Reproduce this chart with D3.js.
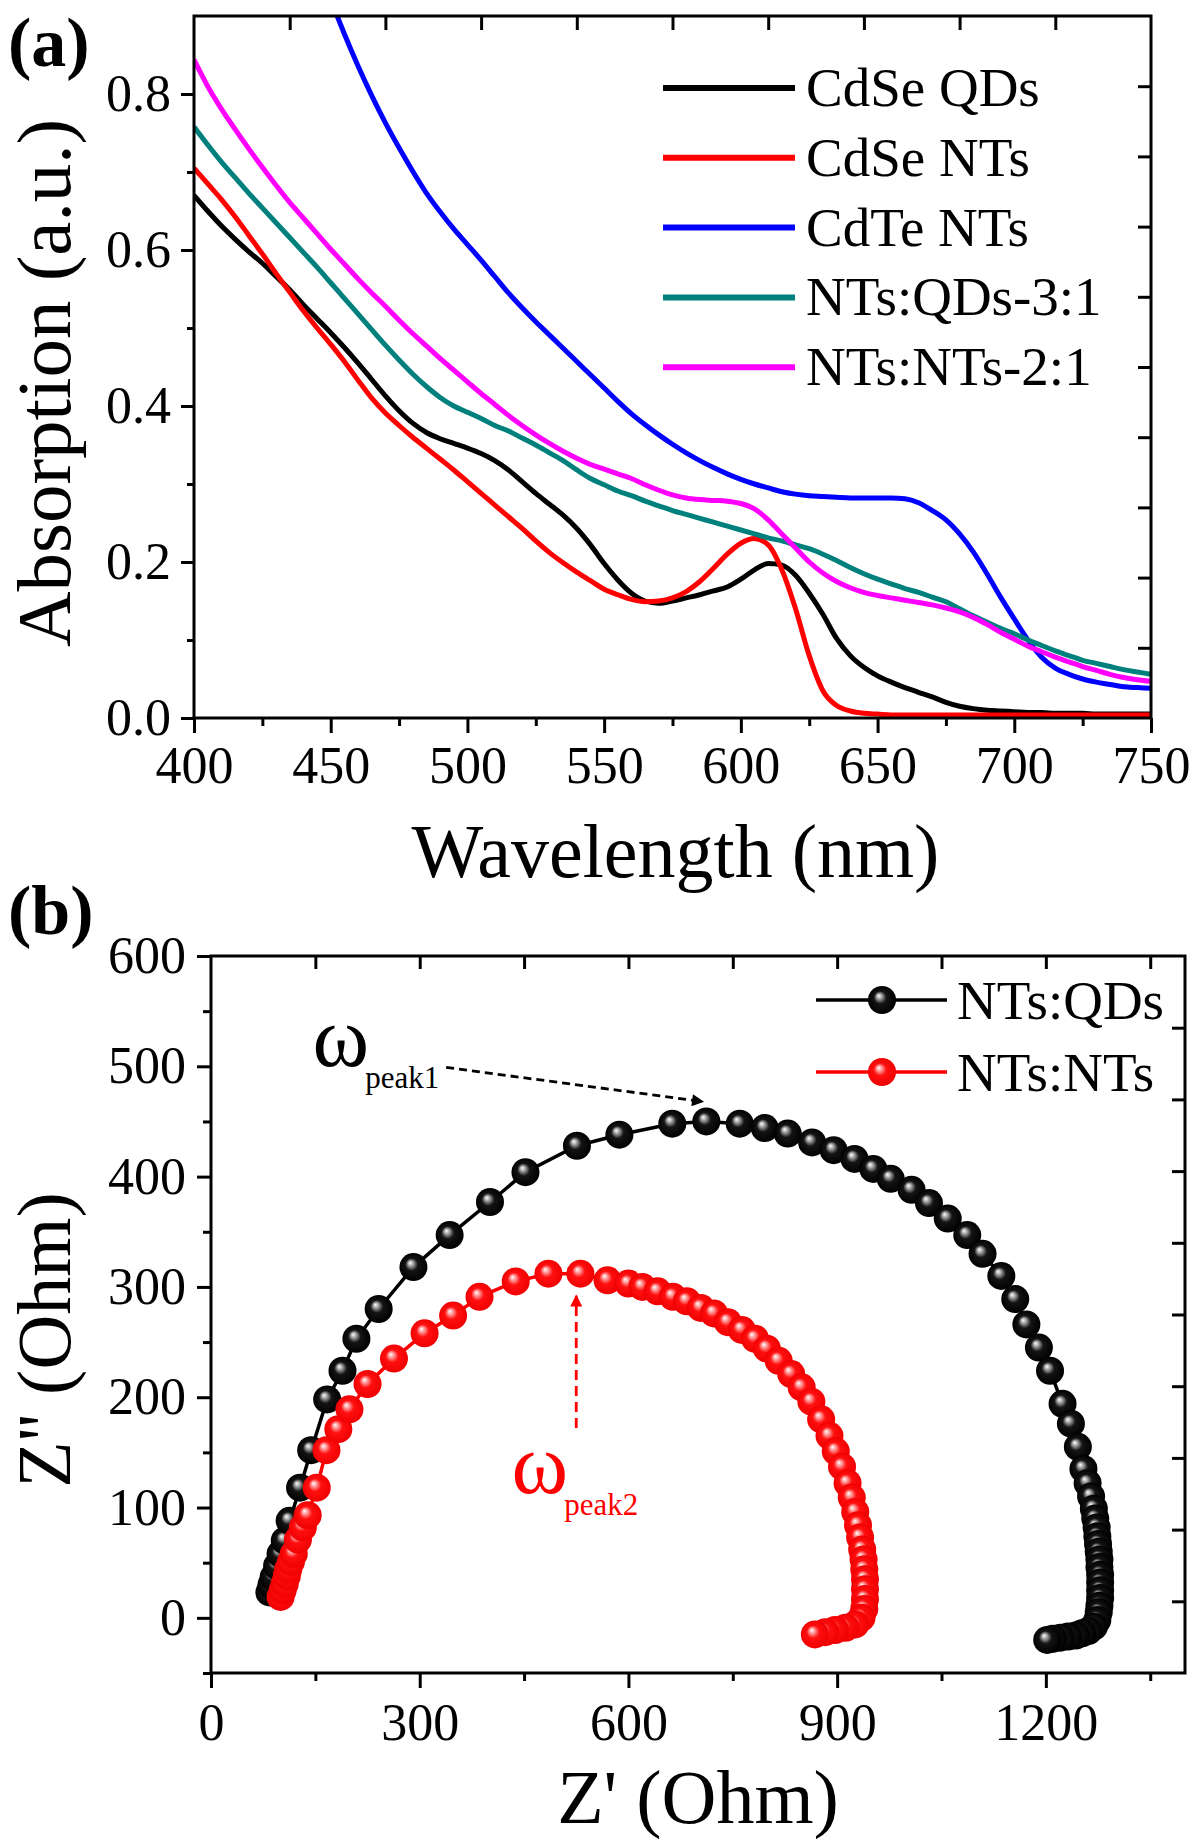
<!DOCTYPE html>
<html><head><meta charset="utf-8">
<script src="https://cdn.jsdelivr.net/npm/d3@7"></script>
<style>
html,body{margin:0;padding:0;background:#fff;}
svg{display:block;}
text{font-family:"Liberation Serif","Times New Roman",serif;fill:#000;}
</style></head><body>
<svg id="chart" width="1200" height="1846"></svg>
<script>
// ---------------- Panel (a) data: absorption spectra ----------------
const aWavelength = [400,405,410,415,420,425,430,435,440,445,450,455,460,465,470,475,480,485,490,495,
  500,505,510,515,520,525,530,535,540,545,550,555,560,565,570,575,580,585,590,595,
  600,605,610,615,620,625,630,635,640,645,650,655,660,665,670,675,680,685,690,695,
  700,705,710,715,720,725,730,735,740,745,750];
const aCdSeQDs = [.670,.650,.631,.614,.598,.583,.566,.549,.530,.512,
  .494,.475,.455,.434,.413,.394,.378,.366,.358,.352,
  .346,.339,.330,.318,.303,.288,.274,.260,.243,.222,
  .198,.177,.160,.150,.147,.150,.154,.158,.163,.168,
  .178,.190,.198,.196,.183,.160,.133,.102,.080,.065,
  .054,.046,.039,.033,.027,.020,.015,.012,.010,.009,
  .008,.007,.007,.006,.006,.006,.005,.005,.005,.005,.005];
const aCdSeNTs = [.705,.685,.665,.643,.619,.595,.570,.546,.522,.500,
  .479,.457,.433,.410,.391,.375,.360,.346,.332,.318,
  .303,.288,.273,.258,.243,.227,.212,.199,.187,.176,
  .165,.158,.152,.149,.150,.154,.162,.175,.192,.210,
  .224,.230,.222,.190,.140,.080,.035,.016,.009,.006,
  .005,.004,.004,.004,.004,.004,.004,.004,.004,.004,
  .004,.004,.004,.004,.004,.004,.004,.004,.004,.004,.004];
const aCdTeNTs = [null,null,null,null,null,null,null,null,null,.965,
  .921,.877,.836,.798,.763,.731,.701,.673,.649,.627,
  .607,.587,.566,.545,.526,.508,.491,.474,.457,.440,
  .423,.406,.390,.376,.363,.351,.340,.330,.321,.313,
  .306,.300,.295,.290,.287,.285,.284,.283,.282,.282,
  .282,.282,.281,.276,.266,.254,.236,.213,.185,.155,
  .127,.100,.078,.064,.056,.050,.046,.043,.040,.039,.038];
const aNTsQDs = [.758,.735,.713,.693,.673,.654,.635,.616,.597,.578,
  .558,.538,.518,.498,.478,.459,.441,.425,.411,.400,
  .392,.384,.375,.368,.359,.350,.340,.330,.318,.307,
  .299,.291,.285,.278,.272,.266,.261,.256,.251,.246,
  .241,.236,.231,.227,.222,.217,.210,.202,.193,.185,
  .178,.172,.166,.161,.155,.149,.140,.131,.123,.115,
  .108,.100,.093,.086,.080,.074,.070,.066,.062,.059,.056];
const aNTsNTs = [.844,.810,.781,.755,.730,.706,.683,.661,.641,.621,
  .601,.582,.563,.545,.528,.510,.493,.477,.461,.446,
  .431,.416,.402,.388,.375,.363,.352,.342,.333,.325,
  .319,.313,.307,.299,.292,.286,.282,.280,.279,.278,
  .275,.268,.254,.236,.218,.200,.186,.175,.167,.161,
  .157,.154,.151,.148,.145,.141,.136,.129,.120,.110,
  .101,.092,.085,.078,.072,.066,.061,.056,.052,.049,.047];
const aSeriesNames = ["CdSe QDs","CdSe NTs","CdTe NTs","NTs:QDs-3:1","NTs:NTs-2:1"];
const aColors = ["#000000","#ff0000","#0000ff","#00807c","#ff00ff"];
const aTickX = [400,450,500,550,600,650,700,750];
const aMinorX = [425,475,525,575,625,675,725];
const aTickY = [0.0,0.2,0.4,0.6,0.8];
const aMinorY = [0.1,0.3,0.5,0.7];
const aTopTicks = [435,470,505,540,575,610,645,680,715];
const aRightTicks = [0.09,0.18,0.27,0.36,0.45,0.54,0.63,0.72,0.81];

// ---------------- Panel (b) data: Nyquist plots [Z', Z''] ----------------
const bNTsQDs = [[84,23],[87,30],[90,37],[95,47],[100,58],[106,70],[113,88],[128,118],[144,152],[167,198],
  [189,224],[209,253],[241,280],[291,318],[343,347],[401,377],[452,404],[526,428],[587,438],[663,448],
  [712,450],[760,448],[796,444],[829,439],[864,431],[895,424],[925,416],[952,407],[977,398],[1007,388],
  [1032,376],[1059,362],[1087,347],[1109,330],[1136,310],[1156,289],[1172,266],[1190,245],[1206,224],[1224,194],
  [1236,176],[1246,155],[1254,135],[1260,122],[1265,110],[1269,99],[1271,90],[1273,82],[1274,74],[1275,67],
  [1276,60],[1277,53],[1277,46],[1278,39],[1278,32],[1278,25],[1278,18],[1277,11],[1276,5],[1274,-2],
  [1269,-8],[1261,-12],[1252,-14],[1243,-16],[1232,-17],[1221,-18],[1210,-19],[1202,-20]];
const bNTsNTs = [[100,19],[103,25],[106,31],[109,38],[111,44],[115,51],[119,58],[125,71],[132,82],[139,93],
  [152,118],[166,152],[183,171],[199,189],[225,212],[263,235],[307,258],[348,274],[386,291],[438,305],
  [485,312],[531,312],[570,306],[600,303],[620,300],[642,296],[664,291],[684,287],[704,281],[723,276],
  [743,268],[763,261],[782,253],[799,244],[816,233],[834,221],[849,209],[863,196],[877,180],[889,165],
  [898,151],[907,137],[915,122],[921,109],[926,96],[930,84],[933,73],[936,62],[938,53],[939,44],
  [940,35],[940,26],[940,17],[939,8],[935,0],[926,-6],[912,-9],[897,-11],[883,-13],[868,-15]];
const bSeriesNames = ["NTs:QDs","NTs:NTs"];
const bTickX = [0,300,600,900,1200];
const bMinorX = [150,450,750,1050,1350];
const bTopTicks = [150,300,450,600,750,900,1050,1200,1350];
const bTickY = [0,100,200,300,400,500,600];
const bMinorY = [-50,50,150,250,350,450,550];
const bRightTicks = [15,80,145,210,275,340,405,470,535];
// annotations: [Z', Z''] anchors
const bArrowPeak1 = [[338,499],[707,468]];
const bArrowPeak2 = [[525,172],[525,292]];
const bLabelPeak1 = [146,500];
const bLabelPeak2 = [432,113];

const svg = d3.select("#chart");
svg.append("rect").attr("width",1200).attr("height",1846).attr("fill","#fff");
const defs = svg.append("defs");

function styleAxis(g, fontSize){
  g.select(".domain").remove();
  g.selectAll(".tick line").attr("stroke","#000").attr("stroke-width",3);
  g.selectAll(".tick text").attr("font-size",fontSize).attr("fill","#000")
    .style("font-family",'"Liberation Serif","Times New Roman",serif');
}

// ======================= Panel (a) =======================
const ax = d3.scaleLinear().domain([400,750]).range([194,1151]);
const ay = d3.scaleLinear().domain([0,0.9]).range([718,16]);
const pa = svg.append("g");

defs.append("clipPath").attr("id","clipA").append("rect")
  .attr("x",ax(400)).attr("y",ay(0.9)).attr("width",ax(750)-ax(400)).attr("height",ay(0)-ay(0.9));

const aSeries = [aCdSeQDs,aCdSeNTs,aCdTeNTs,aNTsQDs,aNTsNTs];
const lineA = d3.line()
  .defined(d=>d[1]!==null)
  .x(d=>ax(d[0])).y(d=>ay(d[1]))
  .curve(d3.curveMonotoneX);
const curvesA = pa.append("g").attr("clip-path","url(#clipA)");
aSeries.forEach((vals,i)=>{
  const pts = aWavelength.map((w,k)=>[w,vals[k]]);
  curvesA.append("path").attr("d",lineA(pts)).attr("fill","none")
    .attr("stroke",aColors[i]).attr("stroke-width",5).attr("stroke-linejoin","round");
});

// axes (a)
let g;
g = pa.append("g").attr("transform",`translate(0,${ay(0)})`)
  .call(d3.axisBottom(ax).tickValues(aTickX).tickSize(15).tickPadding(13).tickFormat(d3.format("d")));
styleAxis(g,52);
g = pa.append("g").attr("transform",`translate(0,${ay(0)})`)
  .call(d3.axisBottom(ax).tickValues(aMinorX).tickSize(8).tickFormat(""));
styleAxis(g,52);
g = pa.append("g").attr("transform",`translate(${ax(400)},0)`)
  .call(d3.axisLeft(ay).tickValues(aTickY).tickSize(13).tickPadding(10).tickFormat(d3.format(".1f")));
styleAxis(g,52);
g = pa.append("g").attr("transform",`translate(${ax(400)},0)`)
  .call(d3.axisLeft(ay).tickValues(aMinorY).tickSize(7).tickFormat(""));
styleAxis(g,52);
g = pa.append("g").attr("transform",`translate(0,${ay(0.9)})`)
  .call(d3.axisTop(ax).tickValues(aTopTicks).tickSize(-14).tickFormat(""));
styleAxis(g,52);
g = pa.append("g").attr("transform",`translate(${ax(750)},0)`)
  .call(d3.axisRight(ay).tickValues(aRightTicks).tickSize(-13).tickFormat(""));
styleAxis(g,52);
pa.append("rect").attr("x",ax(400)).attr("y",ay(0.9)).attr("width",ax(750)-ax(400)).attr("height",ay(0)-ay(0.9))
  .attr("fill","none").attr("stroke","#000").attr("stroke-width",3);

// legend (a)
aSeriesNames.forEach((n,i)=>{
  const y = 88 + i*69.8;
  pa.append("line").attr("x1",663).attr("x2",795).attr("y1",y).attr("y2",y)
    .attr("stroke",aColors[i]).attr("stroke-width",6);
  pa.append("text").attr("x",806).attr("y",y+18).attr("font-size",55).text(n);
});

// titles (a)
pa.append("text").attr("x",(ax(400)+ax(750))/2 + 3).attr("y",877).attr("text-anchor","middle")
  .attr("font-size",76).text("Wavelength (nm)");
pa.append("text").attr("transform","translate(70,383) rotate(-90)").attr("text-anchor","middle")
  .attr("font-size",77).text("Absorption (a.u.)");
pa.append("text").attr("x",8).attr("y",66).attr("font-size",70).attr("font-weight","bold").text("(a)");

// ======================= Panel (b) =======================
const bx = d3.scaleLinear().domain([0,1400]).range([211,1185]);
const by = d3.scaleLinear().domain([-50,600]).range([1673,956]);
const pb = svg.append("g");

function ballGrad(id, c0, c1, c2){
  const gr = defs.append("radialGradient").attr("id",id)
    .attr("cx","50%").attr("cy","50%").attr("r","50%").attr("fx","38%").attr("fy","34%");
  gr.append("stop").attr("offset","0%").attr("stop-color","#ffffff");
  gr.append("stop").attr("offset","18%").attr("stop-color",c0);
  gr.append("stop").attr("offset","45%").attr("stop-color",c1);
  gr.append("stop").attr("offset","100%").attr("stop-color",c2);
}
ballGrad("ballK","#a8a8a8","#141414","#000000");
ballGrad("ballR","#ffa0a0","#ff1010","#f00000");
const bFills = ["url(#ballK)","url(#ballR)"];
const bColors = ["#000000","#ff0000"];

const lineB = d3.line().x(d=>bx(d[0])).y(d=>by(d[1]));
[bNTsQDs,bNTsNTs].forEach((pts,i)=>{
  const sg = pb.append("g");
  sg.append("path").attr("d",lineB(pts)).attr("fill","none").attr("stroke",bColors[i]).attr("stroke-width",3.5);
  sg.selectAll("circle").data(pts).join("circle")
    .attr("cx",d=>bx(d[0])).attr("cy",d=>by(d[1])).attr("r",14)
    .attr("fill",bFills[i]);
});

// axes (b)
g = pb.append("g").attr("transform",`translate(0,${by(-50)})`)
  .call(d3.axisBottom(bx).tickValues(bTickX).tickSize(15).tickPadding(15).tickFormat(d3.format("d")));
styleAxis(g,52);
g = pb.append("g").attr("transform",`translate(0,${by(-50)})`)
  .call(d3.axisBottom(bx).tickValues(bMinorX).tickSize(8).tickFormat(""));
styleAxis(g,52);
g = pb.append("g").attr("transform",`translate(${bx(0)},0)`)
  .call(d3.axisLeft(by).tickValues(bTickY).tickSize(14).tickPadding(11).tickFormat(d3.format("d")));
styleAxis(g,52);
g = pb.append("g").attr("transform",`translate(${bx(0)},0)`)
  .call(d3.axisLeft(by).tickValues(bMinorY).tickSize(8).tickFormat(""));
styleAxis(g,52);
g = pb.append("g").attr("transform",`translate(0,${by(600)})`)
  .call(d3.axisTop(bx).tickValues(bTopTicks).tickSize(-13).tickFormat(""));
styleAxis(g,52);
g = pb.append("g").attr("transform",`translate(${bx(1400)},0)`)
  .call(d3.axisRight(by).tickValues(bRightTicks).tickSize(-13).tickFormat(""));
styleAxis(g,52);
pb.append("rect").attr("x",bx(0)).attr("y",by(600)).attr("width",bx(1400)-bx(0)).attr("height",by(-50)-by(600))
  .attr("fill","none").attr("stroke","#000").attr("stroke-width",3);

// arrows
function arrowMarker(id,color){
  defs.append("marker").attr("id",id).attr("viewBox","0 0 10 10").attr("refX",9).attr("refY",5)
    .attr("markerUnits","userSpaceOnUse").attr("markerWidth",24).attr("markerHeight",12).attr("orient","auto")
    .append("path").attr("d","M0,0 L10,5 L0,10 Z").attr("fill",color);
}
arrowMarker("arrK","#000");
arrowMarker("arrR","#ff0000");
pb.append("path").attr("d",lineB(bArrowPeak1)).attr("fill","none").attr("stroke","#000")
  .attr("stroke-width",2.8).attr("stroke-dasharray","8,5").attr("marker-end","url(#arrK)");
pb.append("path").attr("d",lineB(bArrowPeak2)).attr("fill","none").attr("stroke","#ff0000")
  .attr("stroke-width",2.8).attr("stroke-dasharray","10,6").attr("marker-end","url(#arrR)");

// omega labels
function omegaLabel(p, sub, color){
  const x = bx(p[0]), y = by(p[1]);
  const t = pb.append("text").attr("x",x).attr("y",y).attr("font-size",86)
    .attr("fill",color).style("fill",color).text("ω");
  const w = t.node().getComputedTextLength();
  pb.append("text").attr("x",x+w-4).attr("y",y+22).attr("font-size",31).attr("fill",color).style("fill",color).text(sub);
}
omegaLabel(bLabelPeak1,"peak1","#000");
omegaLabel(bLabelPeak2,"peak2","#ff0000");

// legend (b)
bSeriesNames.forEach((n,i)=>{
  const y = 1000 + i*72;
  pb.append("line").attr("x1",816).attr("x2",947).attr("y1",y).attr("y2",y)
    .attr("stroke",bColors[i]).attr("stroke-width",3.5);
  pb.append("circle").attr("cx",882).attr("cy",y).attr("r",14).attr("fill",bFills[i]);
  pb.append("text").attr("x",957).attr("y",y+19).attr("font-size",55).text(n);
});

// titles (b)
pb.append("text").attr("x",(bx(0)+bx(1400))/2).attr("y",1823).attr("text-anchor","middle")
  .attr("font-size",76).text("Z' (Ohm)");
pb.append("text").attr("transform","translate(70,1340) rotate(-90)").attr("text-anchor","middle")
  .attr("font-size",76).text("Z'' (Ohm)");
pb.append("text").attr("x",8).attr("y",934).attr("font-size",70).attr("font-weight","bold").text("(b)");
</script>
</body></html>
